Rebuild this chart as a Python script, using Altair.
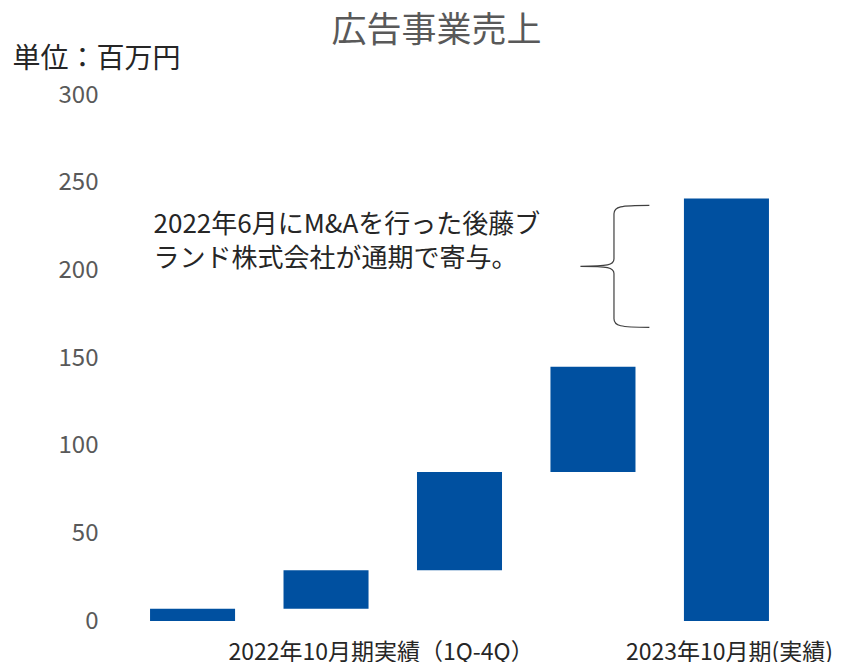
import altair as alt
import pandas as pd

# ---- data ----
categories = ["1Q", "2Q", "3Q", "4Q", "2023年10月期"]
bar_start = [0, 7, 29, 85, 0]
bar_end = [7, 29, 85, 145, 241]

y_ticks = [0, 50, 100, 150, 200, 250, 300]

group_labels = ["2022年10月期実績（1Q-4Q）", "2023年10月期(実績)"]
group_anchor = ["2Q", "2023年10月期"]

note_lines = ["2022年6月にM&Aを行った後藤ブ", "ランド株式会社が通期で寄与。"]
note_anchor = ["1Q"]
note_value = [226]

brace_anchor = ["4Q"]
brace_value = [202.3]

BLUE = "#0050A0"
GRAY = "#595959"
FONT = "Noto Sans CJK JP"

bars_df = pd.DataFrame({"cat": categories, "start": bar_start, "end": bar_end})

x_scale = alt.Scale(domain=categories, paddingInner=0.363, paddingOuter=0.3)
y_scale = alt.Scale(domain=[0, 300])

bars = alt.Chart(bars_df).mark_bar(color=BLUE).encode(
    x=alt.X("cat:N", sort=categories, scale=x_scale, axis=None),
    y=alt.Y(
        "start:Q",
        scale=y_scale,
        axis=alt.Axis(
            values=y_ticks,
            grid=False,
            domain=False,
            ticks=False,
            labelFontSize=24,
            labelColor=GRAY,
            labelPadding=12,
            labelFont=FONT,
            title="単位：百万円",
            titleAngle=0,
            titleX=-98,
            titleY=-36,
            titleAlign="left",
            titleBaseline="middle",
            titleFontSize=28,
            titleFontWeight="normal",
            titleColor="#262626",
            titleFont=FONT,
        ),
    ),
    y2="end:Q",
)

lab1 = alt.Chart(pd.DataFrame({"cat": [group_anchor[0]], "t": [group_labels[0]]})).mark_text(
    fontSize=23, color="#262626", font=FONT, align="center", baseline="middle", dx=55
).encode(x=alt.X("cat:N", scale=x_scale, sort=categories), y=alt.value(558), text="t:N")

lab2 = alt.Chart(pd.DataFrame({"cat": [group_anchor[1]], "t": [group_labels[1]]})).mark_text(
    fontSize=23, color="#262626", font=FONT, align="center", baseline="middle", dx=3
).encode(x=alt.X("cat:N", scale=x_scale, sort=categories), y=alt.value(558), text="t:N")

note = alt.Chart(pd.DataFrame({"cat": note_anchor, "v": note_value})).mark_text(
    fontSize=26, color="#262626", font=FONT, align="left", baseline="middle",
    dx=-39, lineHeight=34, text=note_lines,
).encode(x=alt.X("cat:N", scale=x_scale, sort=categories), y=alt.Y("v:Q", scale=y_scale))

BRACE = ("M 0.58 -1 C 0.1 -1 0 -0.98 0 -0.86 L 0 -0.12 C 0 -0.02 -0.1 0 -0.55 0 "
         "C -0.1 0 0 0.02 0 0.12 L 0 0.86 C 0 0.98 0.1 1 0.58 1")

brace = alt.Chart(pd.DataFrame({"cat": brace_anchor, "v": brace_value})).mark_point(
    shape=BRACE, size=122 * 122, filled=False, stroke="#404040", strokeWidth=1.2,
    opacity=1, xOffset=21,
).encode(x=alt.X("cat:N", scale=x_scale, sort=categories), y=alt.Y("v:Q", scale=y_scale))

chart = alt.layer(bars, lab1, lab2, note, brace).properties(
    width=699,
    height=526,
    title=alt.TitleParams(
        "広告事業売上", fontSize=35, color=GRAY, fontWeight="normal", font=FONT,
        anchor="middle", dx=-23, offset=-4, frame="group",
    ),
    autosize=alt.AutoSizeParams(type="none"),
    padding={"left": 102, "top": 87, "right": 25, "bottom": 41},
).configure(font=FONT).configure_view(strokeWidth=0, stroke="transparent")

chart.save("out.html", embed_options={"renderer": "svg", "actions": False})
